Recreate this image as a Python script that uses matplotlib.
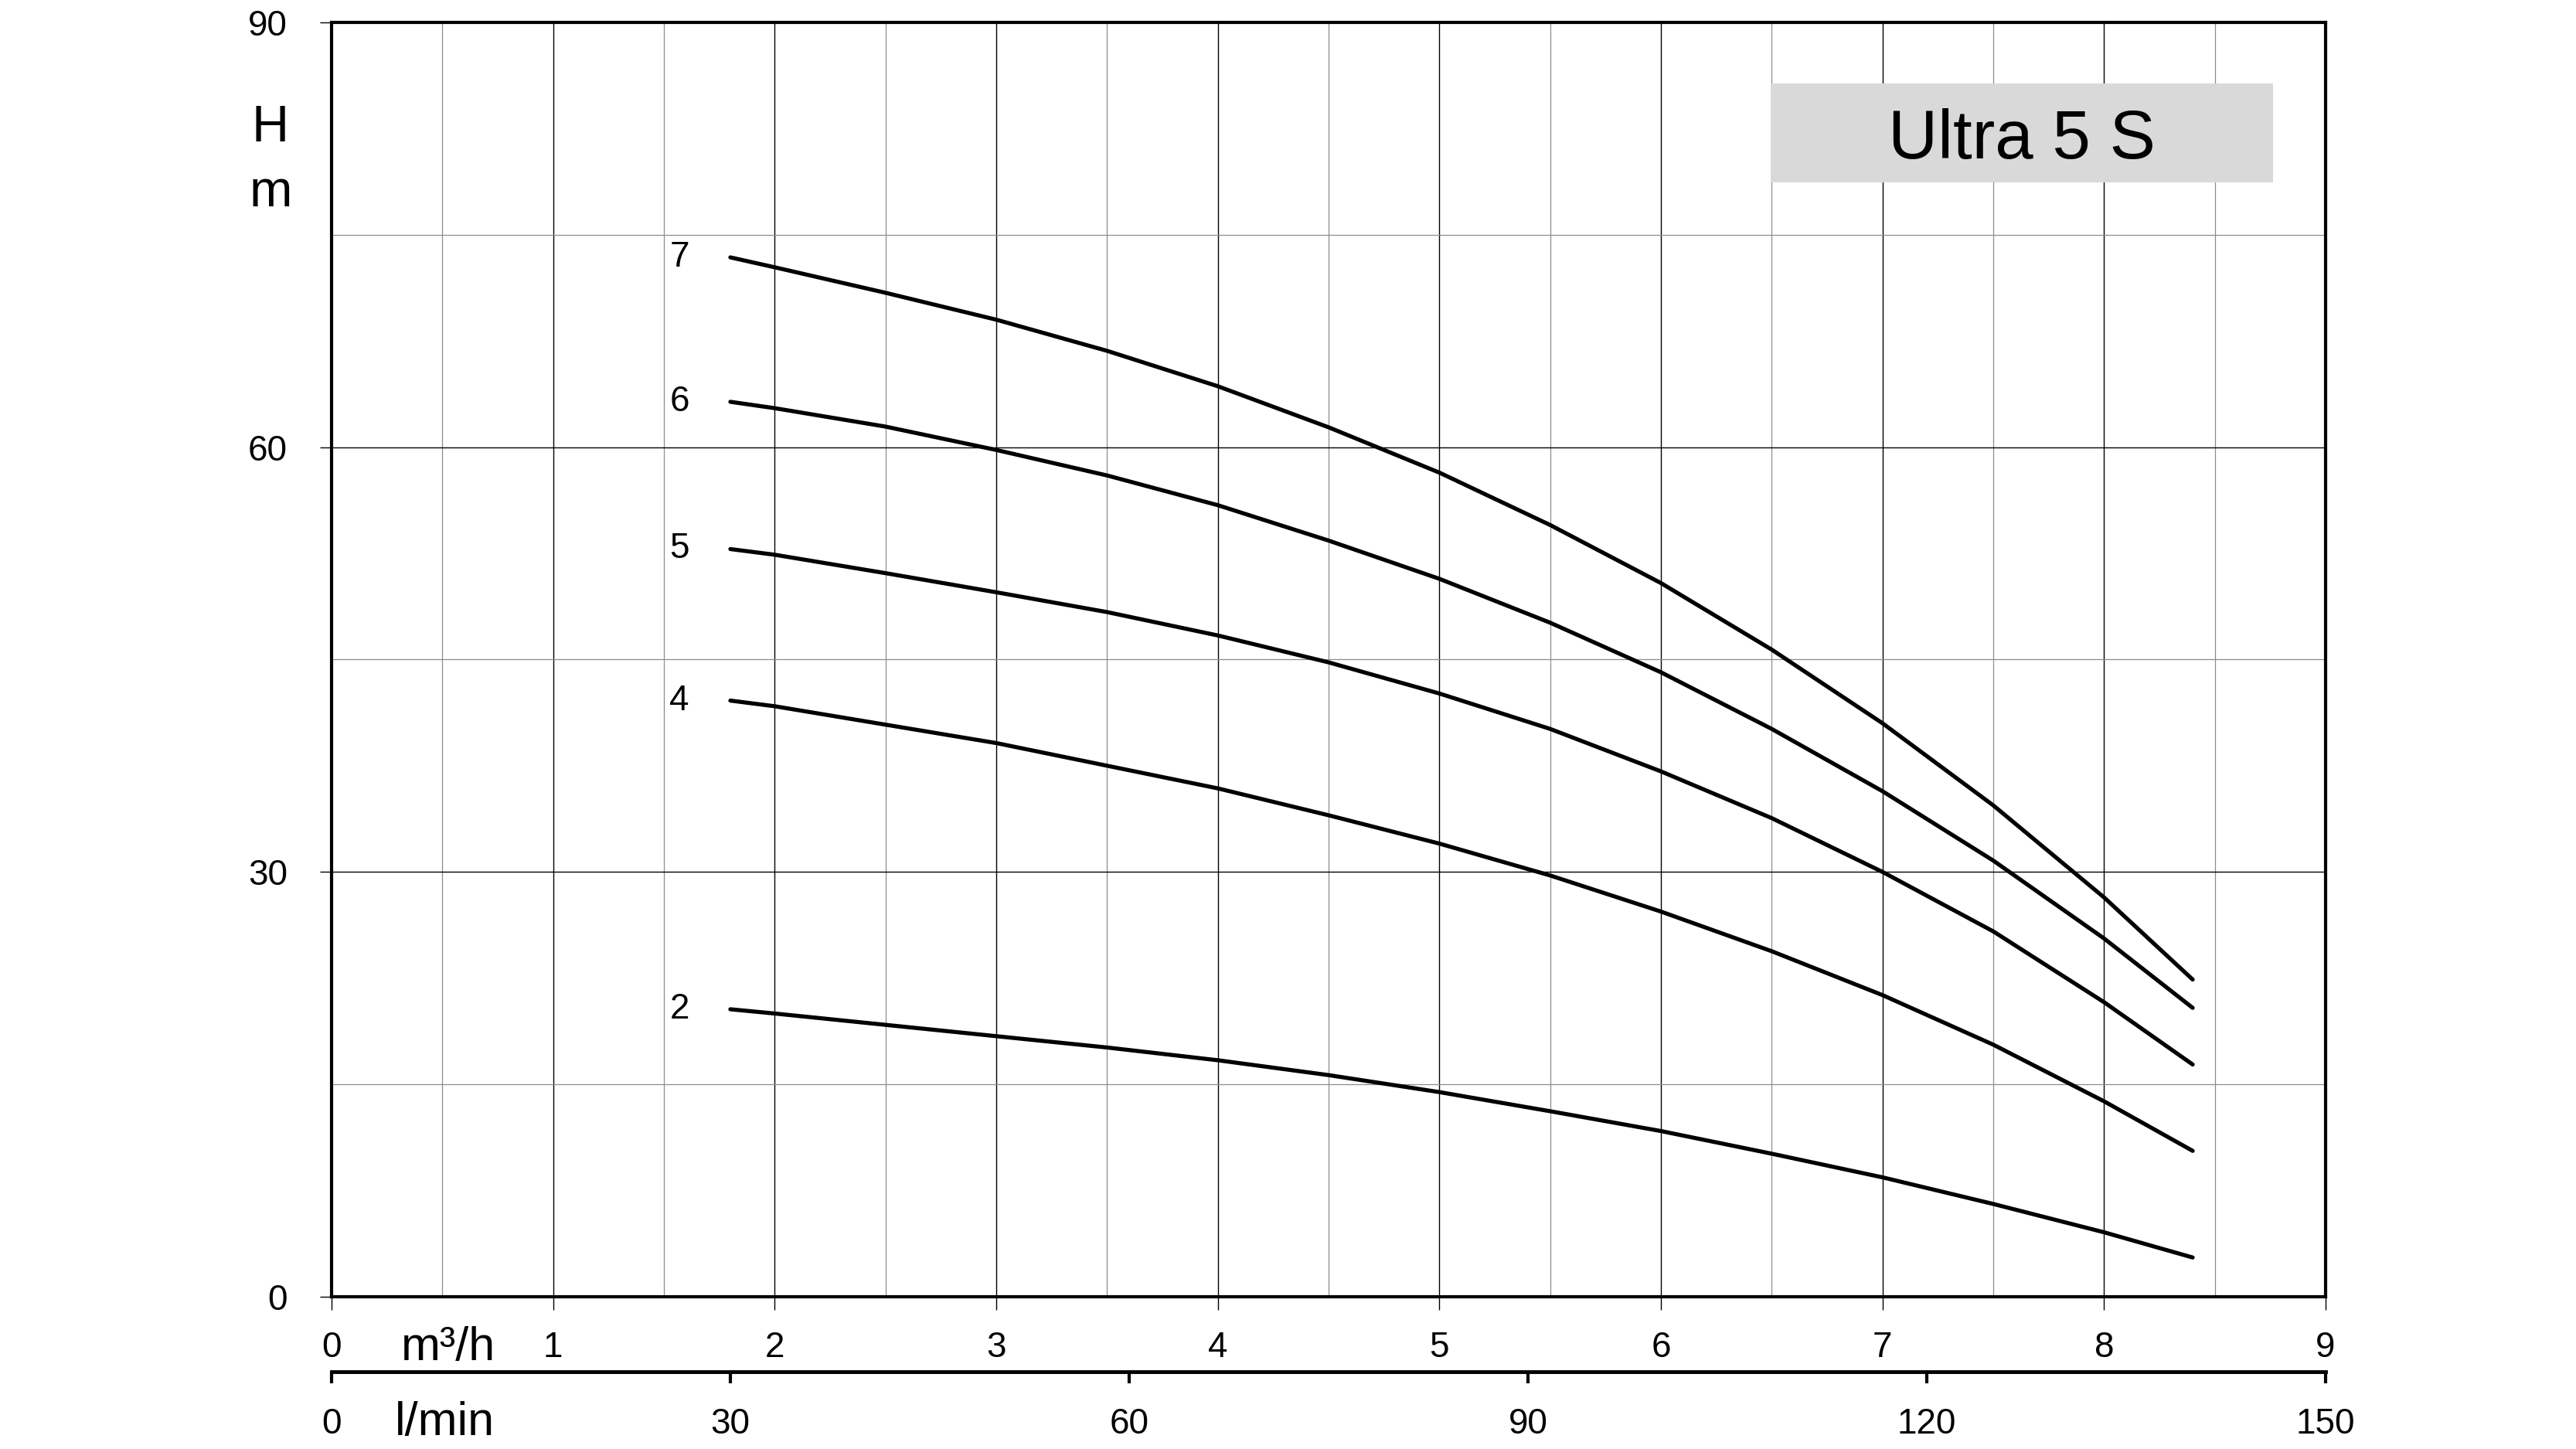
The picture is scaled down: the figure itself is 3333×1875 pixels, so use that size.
import matplotlib
matplotlib.use("Agg")
import matplotlib.pyplot as plt
from matplotlib.patches import Rectangle
from matplotlib.ticker import MultipleLocator

plt.rcParams['font.family'] = ['Liberation Sans', 'DejaVu Sans']

# flow in m3/h, head in m for each stage count
flow = [1.8, 2, 2.5, 3, 3.5, 4, 4.5, 5, 5.5, 6, 6.5, 7, 7.5, 8, 8.4]
head_7 = [73.4, 72.7, 70.9, 69.0, 66.8, 64.3, 61.4, 58.2, 54.5, 50.4, 45.7, 40.5, 34.7, 28.2, 22.4]
head_6 = [63.2, 62.75, 61.45, 59.8, 58.0, 55.9, 53.4, 50.7, 47.6, 44.1, 40.1, 35.7, 30.8, 25.3, 20.4]
head_5 = [52.8, 52.4, 51.1, 49.75, 48.35, 46.7, 44.8, 42.6, 40.1, 37.1, 33.8, 30.0, 25.8, 20.8, 16.4]
head_4 = [42.1, 41.7, 40.4, 39.1, 37.5, 35.9, 34.0, 32.0, 29.75, 27.2, 24.4, 21.3, 17.8, 13.8, 10.3]
head_2 = [20.3, 20.0, 19.2, 18.4, 17.6, 16.7, 15.65, 14.45, 13.1, 11.7, 10.1, 8.43, 6.55, 4.55, 2.77]
curve_names = ['7', '6', '5', '4', '2']
curves = [head_7, head_6, head_5, head_4, head_2]

m3h_ticks = [0, 1, 2, 3, 4, 5, 6, 7, 8, 9]
lmin_ticks = [0, 30, 60, 90, 120, 150]
h_ticks = [0, 30, 60, 90]
title = "Ultra 5 S"

fig = plt.figure(figsize=(33.33, 18.75), dpi=100)
ax = fig.add_axes([0.1287, 0.1051, 0.7741, 0.8795])
ax.set_xlim(0, 9)
ax.set_ylim(0, 90)

for sp in ax.spines.values():
    sp.set_linewidth(3)

ax.set_xticks(m3h_ticks)
ax.set_yticks(h_ticks)
ax.xaxis.set_minor_locator(MultipleLocator(0.5))
ax.yaxis.set_minor_locator(MultipleLocator(15))
ax.grid(which='major', color='black', linewidth=1.0)
ax.grid(which='minor', color='#8c8c8c', linewidth=0.9)
ax.tick_params(which='minor', length=0)
ax.tick_params(axis='x', which='major', direction='out', length=12, width=1,
               labelsize=33, pad=20)
ax.tick_params(axis='y', which='major', direction='out', length=11, width=1,
               labelsize=33, pad=30)

for name, h in zip(curve_names, curves):
    ax.plot(flow, h, color='black', linewidth=3.8, solid_capstyle='round',
            solid_joinstyle='round', zorder=5)
    ax.text(1.57, h[0], name, fontsize=33, ha='center', va='center')

# second flow scale in l/min
sec = ax.secondary_xaxis(-0.0588, functions=(lambda x: x * 50 / 3, lambda x: x * 3 / 50))
sec.set_xticks(lmin_ticks)
sec.spines['bottom'].set_linewidth(3.5)
sec.tick_params(direction='out', length=11, width=3, labelsize=33, pad=22)

ax.text(0.0585, -0.0497, "m³/h", transform=ax.transAxes, fontsize=44,
        ha='center', va='baseline')
ax.text(0.0566, -0.1085, "l/min", transform=ax.transAxes, fontsize=44,
        ha='center', va='baseline')
ax.text(-0.0306, 0.9066, "H", transform=ax.transAxes, fontsize=48,
        ha='center', va='baseline')
ax.text(-0.0306, 0.8557, "m", transform=ax.transAxes, fontsize=48,
        ha='center', va='baseline')

ax.add_patch(Rectangle((0.7217, 0.8745), 0.252, 0.0776, transform=ax.transAxes,
                       facecolor='#d9d9d9', edgecolor='none', zorder=6))
ax.text(0.8477, 0.8933, title, transform=ax.transAxes, fontsize=64,
        ha='center', va='baseline', zorder=7)

fig.savefig("out.png", dpi=100)
